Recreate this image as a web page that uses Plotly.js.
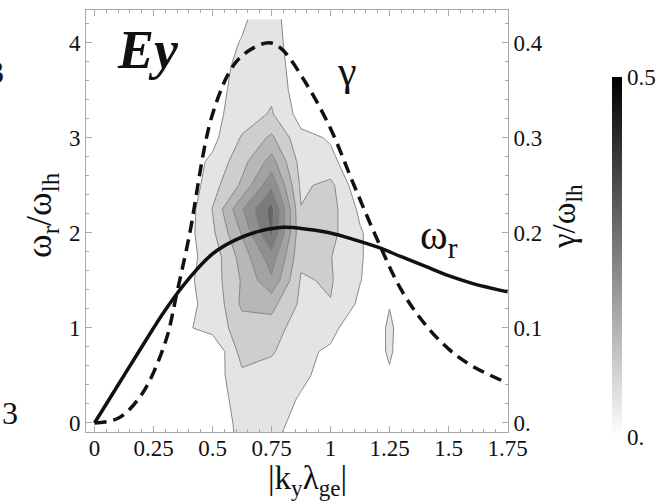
<!DOCTYPE html>
<html>
<head>
<meta charset="utf-8">
<script src="https://cdn.plot.ly/plotly-3.0.1.min.js"></script>
<style>
  html, body { margin: 0; padding: 0; background: #ffffff; }
  #chart { width: 672px; height: 503px; }
</style>
</head>
<body>
<div id="chart"></div>
<script>
// Growth rate gamma/omega_lh versus |k_y lambda_ge| (dashed, right axis)
const kGamma = [0, 0.1, 0.2, 0.3, 0.35, 0.4, 0.5, 0.6, 0.7, 0.75, 0.8, 0.9, 1.0, 1.1, 1.2, 1.3, 1.4, 1.5, 1.6, 1.75];
const gammaVals = [0, 0.005, 0.03, 0.085, 0.138, 0.195, 0.325, 0.38, 0.398, 0.40, 0.392, 0.356, 0.31, 0.25, 0.192, 0.14, 0.104, 0.078, 0.06, 0.042];

// Real frequency omega_r/omega_lh versus |k_y lambda_ge| (solid, left axis)
const kOmega = [0, 0.1, 0.2, 0.3, 0.4, 0.5, 0.6, 0.7, 0.8, 0.9, 1.0, 1.1, 1.2, 1.3, 1.4, 1.5, 1.6, 1.75];
const omegaVals = [0, 0.4, 0.8, 1.19, 1.52, 1.78, 1.93, 2.02, 2.06, 2.04, 2.0, 1.93, 1.85, 1.75, 1.65, 1.55, 1.47, 1.38];

// Ey spectral power on the (k, omega) grid
const gridK = [0.25, 0.375, 0.5, 0.625, 0.75, 0.875, 1.0, 1.125, 1.25, 1.375, 1.5];
const gridOmega = [-0.25, 0, 0.25, 0.5, 0.75, 1.0, 1.25, 1.5, 1.75, 2.0, 2.25, 2.5, 2.75, 3.0, 3.25, 3.5, 3.75, 4.0, 4.25];
const powerEy = [
  [0, 0,     0,     0.065,  0.06,  0,      0,     0,     0,     0,     0],
  [0, 0,     0.005, 0.07,   0.07,  0.03,   0.01,  0,     0.005, 0,     0],
  [0, 0,     0.012, 0.08,   0.075, 0.045,  0.02,  0.005, 0.02,  0,     0],
  [0, 0.005, 0.02,  0.09,   0.08,  0.06,   0.03,  0.005, 0.045, 0,     0],
  [0, 0.01,  0,     0.12,   0.105, 0.065,  0.04,  0.01,  0.056, 0,     0],
  [0, 0.04,  0.07,  0.125,  0.13,  0.0675, 0.07,  0,     0.058, 0,     0],
  [0, 0.04,  0.06,  0.16,   0.165, 0.09,   0.098, 0.04,  0.048, 0.005, 0],
  [0, 0.035, 0.074, 0.155,  0.24,  0.095,  0.105, 0.052, 0.01,  0,     0],
  [0, 0.03,  0.07,  0.17,   0.28,  0.11,   0.102, 0.055, 0.01,  0,     0],
  [0, 0.023, 0.09,  0.205,  0.36,  0.11,   0.115, 0.055, 0.01,  0,     0],
  [0, 0.01,  0.102, 0.245,  0.37,  0.102,  0.12,  0.04,  0.005, 0,     0],
  [0, 0.005, 0.08,  0.16,   0.29,  0.09,   0.115, 0.01,  0.005, 0,     0],
  [0, 0.02,  0.06,  0.1325, 0.22,  0.08,   0.06,  0.02,  0.005, 0,     0],
  [0, 0.01,  0.036, 0.105,  0.16,  0.063,  0.046, 0.02,  0.005, 0,     0],
  [0, 0.01,  0.035, 0.075,  0.105, 0.03,   0.03,  0.01,  0,     0,     0],
  [0, 0.01,  0.03,  0.07,   0.09,  0.02,   0.015, 0.005, 0,     0,     0],
  [0, 0.01,  0.03,  0.062,  0.08,  0.018,  0.01,  0,     0,     0,     0],
  [0, 0.005, 0.035, 0.052,  0.075, 0.012,  0.01,  0,     0,     0,     0],
  [0, 0,     0.01,  0.045,  0.07,  0.01,   0.01,  0,     0,     0,     0]
];

// Axis ticks
const kTickVals = [0, 0.25, 0.5, 0.75, 1, 1.25, 1.5, 1.75];
const kTickText = ['0', '0.25', '0.5', '0.75', '1', '1.25', '1.5', '1.75'];
const omegaTickVals = [0, 1, 2, 3, 4];
const omegaTickText = ['0', '1', '2', '3', '4'];
const gammaTickVals = [0, 0.1, 0.2, 0.3, 0.4];
const gammaTickText = ['0.', '0.1', '0.2', '0.3', '0.4'];
const powerRange = [0, 0.5];
const powerTickText = ['0.', '0.5'];

// Contour levels and band shades (background first, then one per level)
const levelStart = 0.05, levelEnd = 0.35, levelStep = 0.05;
const bandShades = ['#ffffff', '#e4e4e4', '#cecece', '#b7b7b7', '#a3a3a3', '#8f8f8f', '#7b7b7b', '#656565'];

// Stepped colour scale: band k is sampled at k/(n-1) on the scale
function steppedScale(shades) {
  const n = shades.length, out = [];
  for (let k = 0; k < n; k++) {
    const lo = Math.max(0, (k - 0.5) / (n - 1));
    const hi = Math.min(1, (k + 0.5) / (n - 1));
    out.push([lo, shades[k]], [hi, shades[k]]);
  }
  return out;
}

const serif = 'Liberation Serif, Times New Roman, serif';
const ink = '#111111';
const frameGray = '#a8a8a8';

// pixel helpers for paper-anchored labels (plot area spans 86..508 x 10..432)
const px = v => (v - 86) / 422;
const py = v => (432 - v) / 422;

const powerTrace = {
  type: 'contour',
  x: gridK, y: gridOmega, z: powerEy,
  autocontour: false,
  contours: { start: levelStart, end: levelEnd, size: levelStep, coloring: 'fill', showlines: true },
  colorscale: steppedScale(bandShades),
  line: { color: '#858585', width: 1, smoothing: 0 },
  showscale: false,
  hoverinfo: 'skip'
};

// Continuous grey bar for the power scale (no visible markers)
const powerScale = {
  type: 'scatter', mode: 'markers', x: [null, null], y: [null, null],
  marker: {
    color: powerRange, cmin: powerRange[0], cmax: powerRange[1], showscale: true,
    colorscale: [[0, '#ffffff'], [1, '#000000']],
    colorbar: {
      x: px(612), xanchor: 'left', xpad: 0,
      y: py(257), yanchor: 'middle', ypad: 0,
      len: 360, lenmode: 'pixels', thickness: 10,
      outlinewidth: 0, ticks: '',
      tickmode: 'array', tickvals: powerRange, ticktext: powerTickText,
      tickfont: { family: serif, size: 23, color: ink }
    }
  },
  hoverinfo: 'skip', showlegend: false
};

const omegaTrace = {
  type: 'scatter', mode: 'lines', x: kOmega, y: omegaVals,
  line: { color: ink, width: 3.5, shape: 'spline', smoothing: 1 },
  hoverinfo: 'skip'
};

const gammaTrace = {
  type: 'scatter', mode: 'lines', x: kGamma, y: gammaVals, yaxis: 'y2',
  line: { color: ink, width: 3.5, dash: '12px,7px', shape: 'spline', smoothing: 1 },
  hoverinfo: 'skip'
};

const frameAxis = {
  showline: true, linecolor: frameGray, linewidth: 1,
  ticks: 'inside', ticklen: 6, tickcolor: frameGray, tickwidth: 1,
  showgrid: false, zeroline: false, fixedrange: true,
  tickfont: { family: serif, size: 23, color: ink }
};

function label(x, y, text, size, extra) {
  return Object.assign({ xref: 'paper', yref: 'paper', x: px(x), y: py(y),
    xanchor: 'center', yanchor: 'middle', text: text, showarrow: false,
    font: { family: serif, size: size, color: ink } }, extra || {});
}

const layout = {
  width: 672, height: 503,
  margin: { l: 86, r: 164, t: 10, b: 71 },
  paper_bgcolor: '#ffffff', plot_bgcolor: '#ffffff',
  showlegend: false,
  font: { family: serif, color: ink },
  xaxis: Object.assign({}, frameAxis, {
    range: [-0.036, 1.752], mirror: 'ticks', ticklabelstandoff: -5,
    tickmode: 'array', tickvals: kTickVals, ticktext: kTickText,
    minor: { ticks: 'inside', ticklen: 3, tickcolor: frameGray, tick0: 0, dtick: 0.05 }
  }),
  yaxis: Object.assign({}, frameAxis, {
    range: [-0.095, 4.347],
    tickmode: 'array', tickvals: omegaTickVals, ticktext: omegaTickText,
    minor: { ticks: 'inside', ticklen: 3, tickcolor: frameGray, tick0: 0, dtick: 0.2 }
  }),
  yaxis2: Object.assign({}, frameAxis, {
    overlaying: 'y', side: 'right', range: [-0.0095, 0.4347],
    tickmode: 'array', tickvals: gammaTickVals, ticktext: gammaTickText,
    minor: { ticks: 'inside', ticklen: 3, tickcolor: frameGray, tick0: 0, dtick: 0.02 }
  }),
  annotations: [
    label(42, 215, 'ω<sub>r</sub>/ω<sub>lh</sub>', 36, { textangle: -90 }),
    label(566, 217, 'γ/ω<sub>lh</sub>', 33, { textangle: -90 }),
    label(307, 480, '|k<sub>y</sub>λ<sub>ge</sub>|', 33),
    label(148, 50, '<b><i>Ey</i></b>', 54),
    { xref: 'x', yref: 'y', x: 1.07, y: 3.7, xanchor: 'center', yanchor: 'middle',
      text: 'γ', showarrow: false, font: { family: serif, size: 42, color: ink } },
    { xref: 'x', yref: 'y', x: 1.46, y: 1.95, xanchor: 'center', yanchor: 'middle',
      text: 'ω<sub>r</sub>', showarrow: false, font: { family: serif, size: 42, color: ink } },
    label(10, 413, '3', 32),
    label(6, 72, '3', 32, { xanchor: 'right' })
  ]
};

Plotly.newPlot('chart', [powerTrace, powerScale, omegaTrace, gammaTrace], layout,
  { staticPlot: true, displayModeBar: false });
</script>
</body>
</html>
